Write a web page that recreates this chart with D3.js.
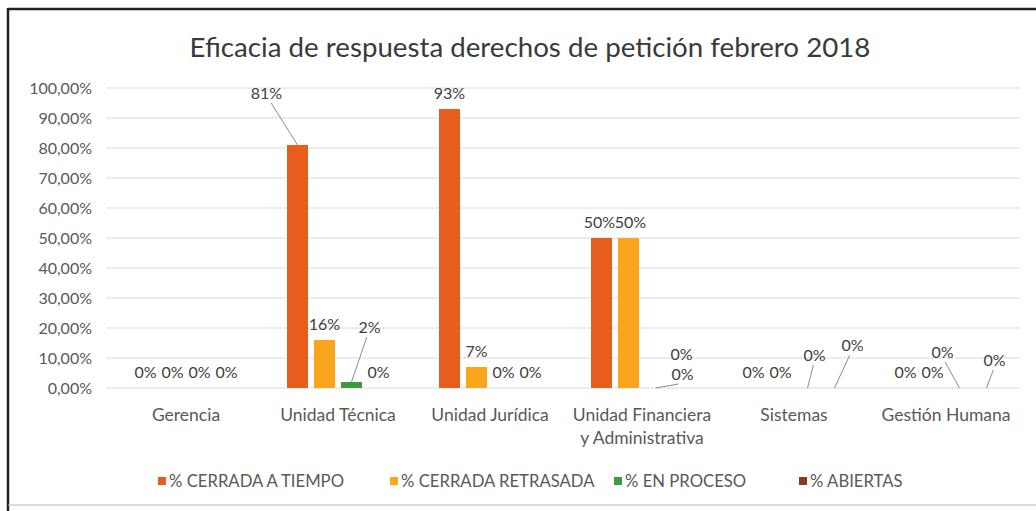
<!DOCTYPE html>
<html>
<head>
<meta charset="utf-8">
<script src="https://cdn.jsdelivr.net/npm/d3@7/dist/d3.min.js"></script>
<style>
  body { margin: 0; background: #fff; }
  svg { font-family: Lato, "Open Sans", sans-serif; }
</style>
</head>
<body>
<script>
// chart data
const categories = ["Gerencia", "Unidad Técnica", "Unidad Jurídica", "Unidad Financiera\ny Administrativa", "Sistemas", "Gestión Humana"];
const seriesNames = ["% CERRADA A TIEMPO", "% CERRADA RETRASADA", "% EN PROCESO", "%  ABIERTAS"];
const cerradaTiempo    = [0, 0.81, 0.93, 0.50, 0, 0];
const cerradaRetrasada = [0, 0.16, 0.07, 0.50, 0, 0];
const enProceso        = [0, 0.02, 0, 0, 0, 0];
const abiertas         = [0, 0, 0, 0, 0, 0];
const yTicks = [0, 0.1, 0.2, 0.3, 0.4, 0.5, 0.6, 0.7, 0.8, 0.9, 1.0];

const seriesValues = [cerradaTiempo, cerradaRetrasada, enProceso, abiertas];
const colors = ["#e65d1e", "#f9a61c", "#3f9a3c", "#8b3a1f"];

// label nudges (series index, category index) -> [dx, dy, leader]
const labelMoves = {
  "0-1": [-31, -52, true],
  "2-1": [18, -55, true],
  "0-3": [-2, -16, false],
  "1-3": [2, -16, false],
  "2-3": [27, -14, true],
  "3-3": [-1, -34, false],
  "2-4": [7, -33, true],
  "3-4": [18, -43, true],
  "2-5": [-17, -36, true],
  "3-5": [8, -28, true]
};

const width = 1036;
const height = 511;

const svg = d3.select("body").append("svg")
  .attr("width", width)
  .attr("height", height);

// frame
svg.append("line").attr("x1", 8).attr("x2", 8).attr("y1", 8).attr("y2", 511)
  .attr("stroke", "#222").attr("stroke-width", 2.5);
svg.append("line").attr("x1", 8).attr("x2", 1036).attr("y1", 9).attr("y2", 9)
  .attr("stroke", "#222").attr("stroke-width", 2.5);
svg.append("line").attr("x1", 8).attr("x2", 1036).attr("y1", 505).attr("y2", 505)
  .attr("stroke", "#bbb").attr("stroke-width", 1);

svg.append("text")
  .attr("x", 530).attr("y", 57)
  .attr("text-anchor", "middle")
  .attr("font-size", 27.7)
  .attr("fill", "#3a3a3a")
  .text("Eficacia de respuesta derechos de petición febrero 2018");

const y = d3.scaleLinear().domain([0, 1]).range([388, 88]);
const x0 = d3.scaleBand().domain(categories).range([110, 1022]);
const groupW = 102;
const x1 = d3.scaleBand().domain(d3.range(seriesNames.length))
  .range([0, groupW]).paddingInner(0.222);

// gridlines
svg.append("g").selectAll("line")
  .data(yTicks)
  .join("line")
  .attr("x1", 107).attr("x2", 1020)
  .attr("y1", d => y(d)).attr("y2", d => y(d))
  .attr("stroke", "#d0d0d0")
  .attr("stroke-dasharray", "3,1");

// y axis labels
const yAxis = d3.axisLeft(y).tickValues(yTicks).tickSize(0).tickPadding(0)
  .tickFormat(d => (d * 100).toFixed(2).replace(".", ",") + "%");
const yg = svg.append("g").attr("transform", "translate(92,0)").call(yAxis);
yg.select(".domain").remove();
yg.selectAll("text").attr("font-size", 16).attr("fill", "#595959")
  .attr("font-family", "Lato, sans-serif");

// bars
const groups = svg.append("g").selectAll("g")
  .data(categories)
  .join("g")
  .attr("transform", d => `translate(${x0(d) + (x0.bandwidth() - groupW) / 2},0)`);

groups.selectAll("rect")
  .data((c, ci) => seriesValues.map((vals, si) => ({ si, ci, v: vals[ci] })))
  .join("rect")
  .attr("x", d => x1(d.si))
  .attr("width", x1.bandwidth())
  .attr("y", d => y(d.v))
  .attr("height", d => y(0) - y(d.v))
  .attr("fill", d => colors[d.si]);

// data labels
groups.each(function(c, ci) {
  const g = d3.select(this);
  seriesValues.forEach((vals, si) => {
    const v = vals[ci];
    const cx = x1(si) + x1.bandwidth() / 2;
    const top = y(v);
    const mv = labelMoves[si + "-" + ci] || [0, -16, false];
    const lx = cx + mv[0];
    const ly = top + mv[1];
    if (mv[2]) {
      const endY = ly + 10;
      const endX = lx + (cx - lx) * 0.15;
      g.append("line")
        .attr("x1", cx).attr("y1", top)
        .attr("x2", endX).attr("y2", endY)
        .attr("stroke", "#8c8c8c").attr("stroke-width", 1);
    }
    g.append("text")
      .attr("x", lx).attr("y", ly)
      .attr("dy", "0.35em")
      .attr("text-anchor", "middle")
      .attr("font-size", 16)
      .attr("fill", "#404040")
      .text(Math.round(v * 100) + "%");
  });
});

// category labels
const xg = svg.append("g");
categories.forEach(c => {
  const t = xg.append("text")
    .attr("x", x0(c) + x0.bandwidth() / 2)
    .attr("y", 421)
    .attr("text-anchor", "middle")
    .attr("font-size", 17.5)
    .attr("fill", "#595959");
  c.split("\n").forEach((line, i) => {
    t.append("tspan")
      .attr("x", x0(c) + x0.bandwidth() / 2)
      .attr("dy", i === 0 ? 0 : 23)
      .text(line);
  });
});

// legend
const legendX = [158, 390, 614, 799];
const legend = svg.append("g").selectAll("g")
  .data(seriesNames)
  .join("g")
  .attr("transform", (d, i) => `translate(${legendX[i]},481)`);
legend.append("rect")
  .attr("x", 0).attr("y", -4).attr("width", 8).attr("height", 8)
  .attr("fill", (d, i) => colors[i]);
legend.append("text")
  .attr("x", 11).attr("y", 0).attr("dy", "0.35em")
  .attr("font-size", 16.7)
  .attr("fill", "#595959")
  .text(d => d);
</script>
</body>
</html>
